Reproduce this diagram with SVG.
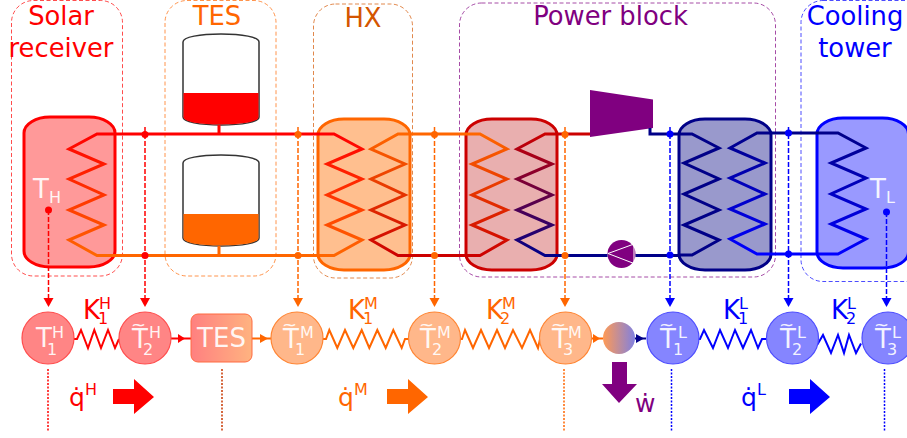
<svg xmlns="http://www.w3.org/2000/svg" width="907" height="438" viewBox="0 0 907 438">
<style>
text{font-family:"DejaVu Sans",sans-serif}
.t{font-size:25.800px;text-anchor:middle}
.n{font-size:26px;fill:#fff;fill-opacity:.92}
.s{font-size:16px;fill:#fff;fill-opacity:.92}
.w{font-size:18px;fill:#fff;fill-opacity:.92}
.k{font-size:26px}
.u{font-size:16px}
.box{fill:none;stroke-width:1;stroke-dasharray:4 2.5;opacity:.7}
.z{fill:none;stroke-width:3}
.p{fill:none;stroke-width:3}
.d{fill:none;stroke-width:1.5;stroke-dasharray:5 2}
.o{fill:none;stroke-width:1.5;stroke-dasharray:2 1.5}
.sp{fill:none;stroke-width:2}
.cr{fill:#ff8585;stroke:#ff4d4d;stroke-width:1.2}
.co{fill:#ffb78a;stroke:#ff8533;stroke-width:1.2}
.cb{fill:#8585ff;stroke:#4d4dff;stroke-width:1.2}
.tk{fill:#fff;stroke:#333;stroke-width:1.5}
</style>
<defs>
<linearGradient id="gs" gradientUnits="userSpaceOnUse" x1="0" y1="134" x2="0" y2="255"><stop offset="0" stop-color="#f00"/><stop offset="1" stop-color="#f60"/></linearGradient>
<linearGradient id="gh2" gradientUnits="userSpaceOnUse" x1="0" y1="134" x2="0" y2="255"><stop offset="0" stop-color="#f60"/><stop offset="1" stop-color="#c00"/></linearGradient>
<linearGradient id="gp2" gradientUnits="userSpaceOnUse" x1="0" y1="134" x2="0" y2="255"><stop offset="0" stop-color="#c00"/><stop offset="1" stop-color="#008"/></linearGradient>
<linearGradient id="gb" gradientUnits="userSpaceOnUse" x1="0" y1="133" x2="0" y2="254"><stop offset="0" stop-color="#008"/><stop offset="1" stop-color="#00f"/></linearGradient>
<linearGradient id="gt"><stop offset="0" stop-color="#ff8080"/><stop offset="1" stop-color="#ffb380"/></linearGradient>
<linearGradient id="gc"><stop offset="0" stop-color="#ff9a55"/><stop offset="1" stop-color="#8080e0"/></linearGradient>
<path id="ahead" d="M-5 -4H5L0 5Z"/>
</defs>

<g id="solar-receiver">
<rect class="box" x="11.500" y="0.500" width="111" height="275.500" rx="22" stroke="#f00"/>
<text class="t" x="61" y="25" fill="#f00">Solar</text>
<text class="t" x="61" y="57" fill="#f00">receiver</text>
<rect x="24" y="117" width="91" height="150" rx="26" ry="16" fill="#ff9999" stroke="#f00" stroke-width="3"/>
<polyline class="z" stroke="url(#gs)" points="115,134 97,134 69,149 104,164 69,179 104,195 69,210 104,225 69,240 97,255.500 115,255.500"/>
<text class="n" x="33" y="198">T</text><text class="s" x="49" y="203">H</text>
</g>

<g id="tes">
<rect class="box" x="165" y="0.500" width="111" height="275.500" rx="22" stroke="#f60"/>
<text class="t" x="217" y="25" fill="#f60">TES</text>
<path class="tk" d="M183 42C183 37 200 34 221 34S259 37 259 42V117C259 122 242 125 221 125S183 122 183 117Z"/>
<path d="M183.500 93H258.500V117C258.500 122 242 124.500 221 124.500S183.500 122 183.500 117Z" fill="#f00"/>
<path class="tk" d="M183 163C183 158 200 155 221 155S259 158 259 163V238C259 243 242 246 221 246S183 243 183 238Z"/>
<path d="M183.500 214H258.500V238C258.500 243 242 245.500 221 245.500S183.500 243 183.500 238Z" fill="#f60"/>
</g>

<g id="hx">
<rect class="box" x="313.500" y="4" width="99" height="274" rx="22" stroke="#d45500"/>
<text class="t" x="363" y="27" fill="#d45500">HX</text>
<rect x="318" y="119" width="92" height="151" rx="26" ry="16" fill="#ffbf8f" stroke="#f60" stroke-width="3"/>
<polyline class="z" stroke="url(#gs)" points="318,134 334,134 362,149 327,164 362,179 327,195 362,210 327,225 362,240 334,255.500 318,255.500"/>
<polyline class="z" stroke="url(#gh2)" points="410,134 398,134 371,149 405,164 371,179 405,195 371,210 405,225 371,240 398,255.500 410,255.500"/>
</g>

<g id="power-block">
<rect class="box" x="459.500" y="3" width="316" height="274" rx="22" stroke="#800080"/>
<text class="t" x="610.500" y="25" fill="#800080">Power block</text>
<rect x="466" y="119" width="91" height="151" rx="26" ry="16" fill="#e9afaf" stroke="#c00" stroke-width="3"/>
<polyline class="z" stroke="url(#gh2)" points="466,134 480,134 507,149 472,164 507,179 472,195 507,210 472,225 507,240 480,255.500 466,255.500"/>
<polyline class="z" stroke="url(#gp2)" points="557,134 545,134 517,149 552,164 517,179 552,195 517,210 552,225 517,240 545,255.500 557,255.500"/>
<polygon points="590,90 653,99.500 653,128 590,137" fill="#800080"/>
<circle cx="621.500" cy="254" r="14" fill="#800080"/>
<polygon points="608,253.500 634,244 634,263.500" fill="none" stroke="#fff" stroke-width="1"/>
<rect x="679" y="119" width="92" height="151" rx="26" ry="16" fill="#9999cc" stroke="#008" stroke-width="3"/>
<polyline class="z" stroke="#008" points="679,134 692,134 719,148 684,163 719,179 684,194 719,210 684,225 719,240 692,255 679,255"/>
<polyline class="z" stroke="url(#gb)" points="771,133 757,133 730,148 765,163 730,178 765,194 730,209 765,224 730,239 757,254 771,254"/>
</g>

<g id="cooling-tower">
<rect class="box" x="801" y="0.500" width="130" height="281" rx="22" stroke="#00f"/>
<text class="t" x="855" y="25" fill="#00f">Cooling</text>
<text class="t" x="855" y="57" fill="#00f">tower</text>
<rect x="817" y="118" width="91.500" height="150" rx="26" ry="16" fill="#9999ff" stroke="#00f" stroke-width="3"/>
<polyline class="z" stroke="url(#gb)" points="817,133 838,133 866,148 831,163 866,178 831,194 866,209 831,224 866,239 838,254 817,254"/>
<text class="n" x="870" y="198">T</text><text class="s" x="886" y="203">L</text>
</g>

<g id="connectors">
<path class="p" stroke="#f00" d="M115 134H318M219 125V134"/>
<path class="p" stroke="#f60" d="M115 255.500H318M219 246V255.500M410 134H466"/>
<path class="p" stroke="#c00" d="M410 255.500H466M557 134H590"/>
<path class="p" stroke="#008" d="M557 255.500H607.500M635.500 255.500H679M771 133H817M650 128V134H679"/>
<path class="p" stroke="#00f" d="M771 254H817"/>
<g fill="#f00"><circle cx="145" cy="134.500" r="3.500"/><circle cx="145" cy="255.500" r="3.500"/><circle cx="48.500" cy="210" r="3.500"/></g>
<g fill="#f60"><circle cx="298" cy="134.500" r="3.500"/><circle cx="298" cy="255.500" r="3.500"/><circle cx="434.500" cy="134.500" r="3.500"/><circle cx="434.500" cy="255.500" r="3.500"/><circle cx="565" cy="134.500" r="3.500"/><circle cx="565" cy="255.500" r="3.500"/></g>
<g fill="#00f"><circle cx="670" cy="134" r="3.500"/><circle cx="670" cy="255" r="3.500"/><circle cx="788.500" cy="133" r="3.500"/><circle cx="788.500" cy="254" r="3.500"/><circle cx="886.500" cy="212" r="3.500"/></g>
<path class="d" stroke="#f00" d="M48.500 210V300M145 127V300"/>
<path class="d" stroke="#f60" d="M298 127V300M434.500 127V300M565 127V300"/>
<path class="d" stroke="#00f" d="M670 127V300M788.500 127V300M886.500 212V300"/>
<g fill="#f00"><use href="#ahead" x="48.500" y="302"/><use href="#ahead" x="145" y="302"/></g>
<g fill="#f60"><use href="#ahead" x="298" y="302"/><use href="#ahead" x="434.500" y="302"/><use href="#ahead" x="565" y="302"/></g>
<g fill="#00f"><use href="#ahead" x="670" y="302"/><use href="#ahead" x="788.500" y="302"/><use href="#ahead" x="886.500" y="302"/></g>
<path class="o" stroke="#f00" d="M48 369V432"/>
<path class="o" stroke="#c83700" d="M222 369V432"/>
<path class="o" stroke="#f60" d="M564 369V432"/>
<path class="o" stroke="#00f" d="M671.500 369V432M884.500 369V432"/>
<polyline class="sp" stroke="#f00" points="74,339 77,339 81,330 88,348 94.300,330 101,348 108,330 115,348 119,339"/>
<polyline class="sp" stroke="#f60" points="323,339 326,339 329.300,330 337.300,348 345,330 353.300,348 361.700,330 369.300,348 377.300,330 385.700,348 393.300,330 401.700,348 405,339 408,339"/>
<polyline class="sp" stroke="#f60" points="460.500,339 462,339 465,330 473,348 481,330 489,348 497,330 505,348 513,330 522,348 530,330 538,348 540,339"/>
<polyline class="sp" stroke="#00f" points="697,339 700,339 704,330 713,348 720,330 728,348 735,330 743,348 751,330 758,348 762,339 767,339"/>
<polyline class="sp" stroke="#00f" points="817,345 818,343.500 823,335 831,353 838,335 844,353 849,335 856,353 861,343.500"/>
<path d="M171 338.500H191" stroke="#f00" stroke-width="2"/><polygon points="178,334 185,338.500 178,343" fill="#f00"/>
<path d="M252 338.500H271" stroke="#f60" stroke-width="2"/><polygon points="260,334 268,338.500 260,343" fill="#f60"/>
<path d="M591 338.500H603" stroke="#f60" stroke-width="2"/><polygon points="593,334 600,338.500 593,343" fill="#f60"/>
<path d="M635 338.500H646" stroke="#008" stroke-width="2"/><polygon points="636,334 644,338.500 636,343" fill="#008"/>
</g>

<g id="T1H"><circle class="cr" cx="48" cy="338" r="26"/><text class="n" x="36" y="347">T</text><text class="s" x="52" y="338">H</text><text class="s" x="47" y="355">1</text></g>
<g id="T2H"><circle class="cr" cx="145" cy="338" r="26"/><text class="w" x="131" y="331">~</text><text class="n" x="132" y="348">T</text><text class="s" x="149" y="338">H</text><text class="s" x="143" y="355">2</text></g>
<g id="TES-node"><rect x="191" y="314" width="61" height="48" rx="7" fill="url(#gt)" stroke="#ff6a40"/><text x="221.500" y="347" text-anchor="middle" class="n">TES</text></g>
<g id="T1M"><circle class="co" cx="297" cy="338" r="26"/><text class="w" x="282" y="331">~</text><text class="n" x="283" y="348">T</text><text class="s" x="300" y="338">M</text><text class="s" x="295" y="355">1</text></g>
<g id="T2M"><circle class="co" cx="434.500" cy="338" r="26"/><text class="w" x="419" y="331">~</text><text class="n" x="420" y="348">T</text><text class="s" x="437" y="338">M</text><text class="s" x="432" y="355">2</text></g>
<g id="T3M"><circle class="co" cx="565.500" cy="338" r="26"/><text class="w" x="551" y="331">~</text><text class="n" x="552" y="348">T</text><text class="s" x="568" y="338">M</text><text class="s" x="563" y="355">3</text></g>
<g id="work-node"><circle cx="619" cy="338" r="16" fill="url(#gc)"/></g>
<g id="T1L"><circle class="cb" cx="673" cy="338" r="26"/><text class="w" x="659" y="331">~</text><text class="n" x="660" y="348">T</text><text class="s" x="678" y="338">L</text><text class="s" x="673" y="355">1</text></g>
<g id="T2L"><circle class="cb" cx="792.500" cy="338" r="26"/><text class="w" x="779" y="331">~</text><text class="n" x="780" y="348">T</text><text class="s" x="797" y="338">L</text><text class="s" x="792" y="355">2</text></g>
<g id="T3L"><circle class="cb" cx="888" cy="338" r="26"/><text class="w" x="874" y="331">~</text><text class="n" x="875" y="348">T</text><text class="s" x="892" y="338">L</text><text class="s" x="887" y="355">3</text></g>

<g id="labels">
<g fill="#f00"><text class="k" x="83" y="319">K</text><text class="u" x="99" y="309">H</text><text class="u" x="98" y="324">1</text></g>
<g fill="#f60"><text class="k" x="348" y="319">K</text><text class="u" x="364" y="309">M</text><text class="u" x="363" y="324">1</text>
<text class="k" x="486" y="319">K</text><text class="u" x="502" y="309">M</text><text class="u" x="500" y="324">2</text></g>
<g fill="#00f"><text class="k" x="723" y="319">K</text><text class="u" x="739" y="309">L</text><text class="u" x="738" y="324">1</text>
<text class="k" x="831" y="319">K</text><text class="u" x="847" y="309">L</text><text class="u" x="846" y="324">2</text></g>
<text x="69" y="406" font-size="25" fill="#f00">q̇</text><text class="u" x="85" y="395" fill="#f00">H</text>
<text x="338" y="406" font-size="25" fill="#f60">q̇</text><text class="u" x="354" y="395" fill="#f60">M</text>
<text x="741" y="406" font-size="25" fill="#00f">q̇</text><text class="u" x="757" y="395" fill="#00f">L</text>
<text x="635" y="412" font-size="25" fill="#800080">ẇ</text>
</g>

<g id="flow-arrows">
<path d="M113 389H134V379L154 397 134 414V404H113Z" fill="#f00"/>
<path d="M387 389H408V379L428 397 408 414V404H387Z" fill="#f60"/>
<path d="M789 389H810V379L830 397 810 414V404H789Z" fill="#00f"/>
<path d="M612 362H627V384H637L619 403 602 384H612Z" fill="#800080"/>
</g>
</svg>
